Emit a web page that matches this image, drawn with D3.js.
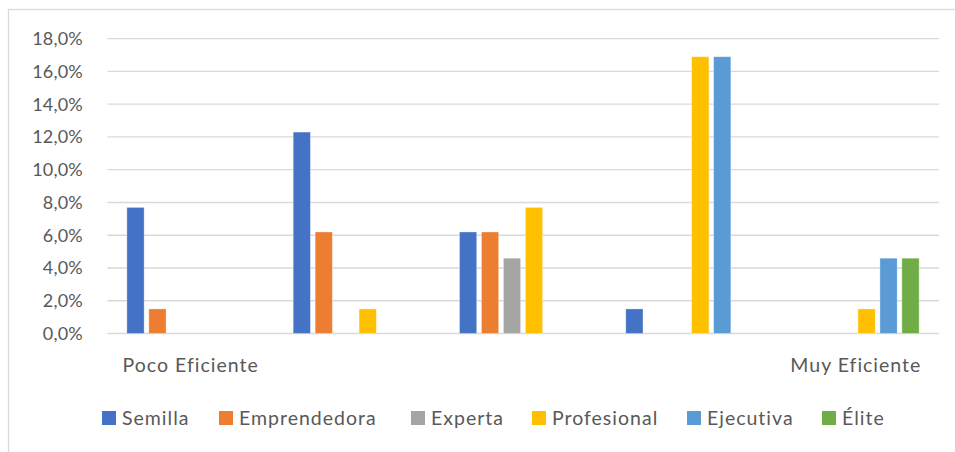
<!DOCTYPE html>
<html>
<head>
<meta charset="utf-8">
<script src="https://cdn.jsdelivr.net/npm/d3@7"></script>
<style>
  html, body { margin: 0; padding: 0; background: #fff; }
  svg { display: block; }
  text { font-family: Lato, "Open Sans", sans-serif; fill: #595959; font-variant-ligatures: none; }
  .lbl { font-size: 19.5px; letter-spacing: 1px; }
</style>
</head>
<body>
<svg id="chart" width="955" height="452"></svg>
<script>
// Efficiency categories (only the two ends are labelled on the axis)
const categories = ["Poco Eficiente", "", " ", "  ", "Muy Eficiente"];
const series = ["Semilla", "Emprendedora", "Experta", "Profesional", "Ejecutiva", "Élite"];
const colors = ["#4472C4", "#ED7D31", "#A5A5A5", "#FFC000", "#5B9BD5", "#70AD47"];

// Share per series, one value per category (percent)
const semilla      = [7.7, 12.3, 6.2, 1.5, 0];
const emprendedora = [1.5, 6.2, 6.2, 0, 0];
const experta      = [0, 0, 4.6, 0, 0];
const profesional  = [0, 1.5, 7.7, 16.9, 1.5];
const ejecutiva    = [0, 0, 0, 16.9, 4.6];
const elite        = [0, 0, 0, 0, 4.6];
const yTicks = [0, 2, 4, 6, 8, 10, 12, 14, 16, 18];

const values = [semilla, emprendedora, experta, profesional, ejecutiva, elite];

const svg = d3.select("#chart");
const plot = { left: 107.5, right: 939, top: 38.7, bottom: 333.5 };

// Outer chart frame
svg.append("rect")
  .attr("x", 8.5).attr("y", 9.5)
  .attr("width", 960).attr("height", 460)
  .attr("fill", "none").attr("stroke", "#D9D9D9").attr("stroke-width", 1.3);

const x0 = d3.scaleBand().domain(categories).range([plot.left, plot.right]).padding(0);
const bw = x0.bandwidth();
const x1 = d3.scaleBand().domain(series)
  .range([bw * 0.1165, bw * (1 - 0.1195)])
  .paddingInner(0.214).paddingOuter(0);
const y = d3.scaleLinear().domain([0, 18]).range([plot.bottom, plot.top]);

// Horizontal gridlines
svg.append("g").selectAll("line").data(yTicks).join("line")
  .attr("x1", plot.left).attr("x2", plot.right)
  .attr("y1", d => y(d)).attr("y2", d => y(d))
  .attr("stroke", "#D9D9D9").attr("stroke-width", 1.3);

// Y axis labels
const fmt = d => d.toFixed(1).replace(".", ",") + "%";
svg.append("g").selectAll("text").data(yTicks).join("text")
  .attr("x", 83).attr("y", d => y(d))
  .attr("dy", "0.35em")
  .attr("text-anchor", "end")
  .attr("font-size", 18)
  .attr("letter-spacing", 0.2)
  .text(fmt);

// Bars
const groups = svg.append("g").selectAll("g").data(categories).join("g")
  .attr("transform", c => `translate(${x0(c)},0)`);
groups.selectAll("rect")
  .data((c, ci) => series.map((s, si) => ({ s, si, v: values[si][ci] })).filter(d => d.v > 0))
  .join("rect")
  .attr("x", d => x1(d.s))
  .attr("width", x1.bandwidth())
  .attr("y", d => y(d.v))
  .attr("height", d => y(0) - y(d.v))
  .attr("fill", d => colors[d.si])
  .attr("stroke", "#fff").attr("stroke-opacity", 0.5).attr("stroke-width", 0.7);

// Category labels
svg.append("g").selectAll("text").data(categories).join("text")
  .attr("class", "lbl")
  .attr("x", c => x0(c) + bw / 2)
  .attr("y", 365)
  .attr("dy", "0.35em")
  .attr("text-anchor", "middle")
  .text(c => c.trim());

// Legend
const legendX = [102, 219, 411, 532, 687, 822];
const legend = svg.append("g").selectAll("g").data(series).join("g")
  .attr("transform", (s, i) => `translate(${legendX[i]},411)`);
legend.append("rect").attr("width", 14).attr("height", 14)
  .attr("fill", (s, i) => colors[i]);
legend.append("text").attr("class", "lbl")
  .attr("x", 20).attr("y", 7).attr("dy", "0.35em")
  .text(s => s);
</script>
</body>
</html>
